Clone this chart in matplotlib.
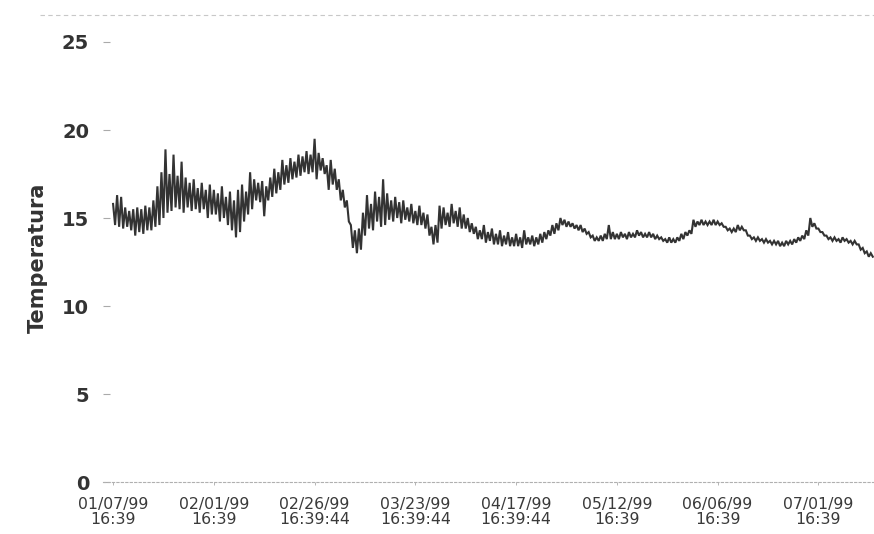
import datetime as dt
import numpy as np
import matplotlib
matplotlib.use("Agg")
import matplotlib.pyplot as plt
import matplotlib.dates as mdates
from matplotlib.lines import Line2D

# ---- data ----
start_time = dt.datetime(1999, 1, 7, 16, 39)

daily_high = [
    15.8, 16.3, 16.2, 15.6, 15.4, 15.5, 15.6, 15.5, 15.7, 15.6,
    16.0, 16.8, 17.6, 18.9, 17.5, 18.6, 17.4, 18.2, 17.3, 17.0,
    17.2, 16.7, 17.0, 16.6, 16.9, 16.6, 16.4, 16.8, 16.2, 16.5,
    16.0, 16.6, 16.9, 16.5, 17.6, 17.2, 17.0, 17.1, 16.8, 17.3,
    17.8, 17.6, 18.3, 18.0, 18.4, 18.2, 18.6, 18.5, 18.8, 18.6,
    19.5, 18.7, 18.4, 18.0, 18.3, 17.8, 17.2, 16.6, 16.0, 14.6,
    14.3, 14.4, 15.3, 16.3, 15.8, 16.5, 16.2, 17.2, 16.4, 16.0,
    16.2, 15.9, 16.0, 15.6, 15.8, 15.4, 15.7, 15.3, 15.2, 14.5,
    14.6, 15.7, 15.6, 15.3, 15.8, 15.4, 15.6, 15.2, 15.0, 14.7,
    14.5, 14.3, 14.6, 14.2, 14.4, 14.1, 14.3, 14.0, 14.2, 13.9,
    14.1, 13.9, 14.3, 13.9, 14.0, 13.9, 14.1, 14.2, 14.3, 14.6,
    14.7, 15.0, 14.9, 14.8, 14.7, 14.6, 14.6, 14.4, 14.2, 14.0,
    13.9, 14.0, 14.1, 14.6, 14.2, 14.1, 14.2, 14.1, 14.2, 14.1,
    14.3, 14.2, 14.1, 14.2, 14.1, 14.0, 13.9, 13.8, 13.9, 13.8,
    13.9, 14.1, 14.2, 14.3, 14.9, 14.8, 14.9, 14.8, 14.8, 14.9,
    14.8, 14.7, 14.5, 14.4, 14.4, 14.6, 14.5, 14.3, 14.0, 13.9,
    13.9, 13.8, 13.8, 13.7, 13.7, 13.7, 13.6, 13.7, 13.7, 13.8,
    13.9, 14.0, 14.3, 15.0, 14.7, 14.4, 14.2, 14.0, 13.9, 13.9,
    13.8, 13.9, 13.8, 13.7, 13.7, 13.5, 13.3, 13.1, 13.0,
]

daily_low = [
    14.6, 14.5, 14.4, 14.5, 14.3, 14.0, 14.2, 14.1, 14.3, 14.3,
    14.5, 14.6, 15.0, 15.3, 15.4, 15.6, 15.5, 15.3, 15.6, 15.4,
    15.5, 15.3, 15.5, 15.0, 15.2, 15.2, 14.8, 15.0, 14.6, 14.3,
    13.9, 14.2, 14.8, 15.2, 15.5, 16.0, 15.9, 15.1, 16.0, 16.2,
    16.4, 16.6, 16.9, 17.0, 17.2, 17.3, 17.4, 17.6, 17.5, 17.6,
    17.2, 17.7, 17.5, 16.6, 16.9, 16.6, 16.0, 15.6, 14.8, 13.3,
    13.0, 13.2, 14.0, 14.4, 14.3, 14.8, 14.5, 14.6, 14.9, 14.8,
    15.0, 14.7, 14.9, 14.8, 14.7, 14.6, 14.6, 14.4, 14.0, 13.5,
    13.6, 14.4, 14.6, 14.5, 14.7, 14.5, 14.4, 14.4, 14.2, 14.1,
    13.8, 13.8, 13.6, 13.7, 13.5, 13.5, 13.4, 13.5, 13.4, 13.4,
    13.4, 13.3, 13.5, 13.5, 13.4, 13.5, 13.6, 13.8, 14.0, 14.1,
    14.3, 14.6, 14.5, 14.5, 14.4, 14.3, 14.2, 14.1, 13.9, 13.7,
    13.7, 13.7, 13.8, 13.8, 13.8, 13.8, 13.9, 13.8, 13.9, 13.9,
    14.0, 13.9, 13.9, 13.9, 13.8, 13.8, 13.7, 13.6, 13.6, 13.6,
    13.7, 13.8, 14.0, 14.1, 14.5, 14.6, 14.6, 14.6, 14.6, 14.6,
    14.6, 14.5, 14.3, 14.2, 14.2, 14.3, 14.3, 14.0, 13.8, 13.7,
    13.7, 13.6, 13.6, 13.5, 13.5, 13.4, 13.4, 13.5, 13.5, 13.6,
    13.7, 13.8, 14.0, 14.5, 14.4, 14.2, 14.0, 13.8, 13.7, 13.7,
    13.6, 13.7, 13.6, 13.5, 13.5, 13.2, 13.0, 12.8, 12.8,
]

y_ticks = [0, 5, 10, 15, 20, 25]
x_tick_labels = [
    "01/07/99\n16:39", "02/01/99\n16:39", "02/26/99\n16:39:44",
    "03/23/99\n16:39:44", "04/17/99\n16:39:44", "05/12/99\n16:39",
    "06/06/99\n16:39", "07/01/99\n16:39",
]
tick_step_days = 25
y_label = "Temperatura"

# ---- build series ----
n = len(daily_high)
values = np.empty(2 * n)
values[0::2] = daily_high
values[1::2] = daily_low
times = [start_time + dt.timedelta(days=0.5 * i) for i in range(2 * n)]
tnum = mdates.date2num(times)
t0 = mdates.date2num(start_time)

W, H = 874, 534
fig = plt.figure(figsize=(W / 100, H / 100), dpi=100)
fig.patch.set_facecolor("white")
ax = fig.add_axes([103 / W, 52 / H, (W - 103) / W, 440 / H])

ax.plot(tnum, values, color="#333333", linewidth=1.5, solid_joinstyle="miter")

ax.set_ylim(0, 25)
ax.set_xlim(t0 - 2.5, t0 + 188.8)

for s in ["top", "right", "left"]:
    ax.spines[s].set_visible(False)
ax.spines["bottom"].set_color("#b0b0b0")
ax.spines["bottom"].set_linestyle((0, (2, 2)))
ax.spines["bottom"].set_linewidth(0.8)

ax.set_yticks(y_ticks)
ax.set_yticklabels([str(v) for v in y_ticks], fontfamily="DejaVu Sans",
                   fontweight="bold", fontsize=14, color="#333333")
ax.tick_params(axis="y", direction="in", length=5, width=0.8, color="#aaaaaa", pad=10)

xt = [t0 + tick_step_days * k for k in range(len(x_tick_labels))]
ax.set_xticks(xt)
ax.set_xticklabels(x_tick_labels, fontfamily="DejaVu Sans", fontsize=11.3,
                   color="#3a3a3a")
for lbl in ax.get_xticklabels():
    lbl.set_linespacing(1.0)
ax.tick_params(axis="x", direction="out", length=2, width=0.6, color="#aaaaaa", pad=9)

fig.text(38 / W, 1 - 258 / H, y_label, rotation=90, ha="center", va="center",
         fontfamily="DejaVu Sans", fontweight="bold", fontsize=15, color="#333333")

# faint scan border line at top
fig.add_artist(Line2D([40 / W, 1.0], [1 - 15 / H, 1 - 15 / H], transform=fig.transFigure,
                      color="#c8c8c8", linewidth=0.8, linestyle=(0, (4, 3))))

fig.savefig("out.png", dpi=100, facecolor="white")
